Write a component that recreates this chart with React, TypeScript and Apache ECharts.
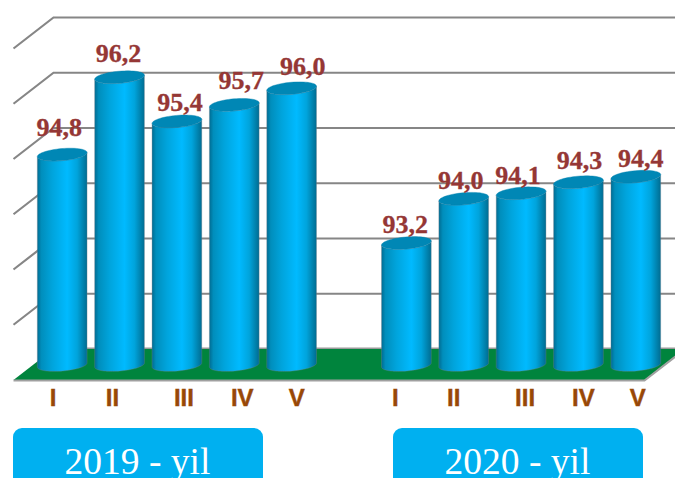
import React, { useEffect, useRef } from "react";
import * as echarts from "echarts";

const categories = ["I", "II", "III", "IV", "V", "", "I", "II", "III", "IV", "V"];
const values: (number | null)[] = [94.8, 96.2, 95.4, 95.7, 96.0, null, 93.2, 94.0, 94.1, 94.3, 94.4];
const valueLabels = ["94,8", "96,2", "95,4", "95,7", "96,0", "", "93,2", "94,0", "94,1", "94,3", "94,4"];
const yTicks = [92, 93, 94, 95, 96, 97];
const yearLabels = ["2019 - yil", "2020 - yil"];

// hand-placed offsets of the texts, relative to each bar
const labelDx = [-3, -1, 3, 7, 11, 0, -1, -3, -3, 1, 5];
const labelDy = [-14, -11, -5.5, -11, -8.5, 0, -5, -5, -5, -9, -5];
const catDx = [-9, -7, 7, 8, 5, 0, -11, -10, 4, 5, 2];

const DEPTH_X = 20;
const DEPTH_Y = 15.5;
const AXIS_MIN = 91;
const AXIS_MAX = 97;

const sideGradient = new echarts.graphic.LinearGradient(0, 0, 1, 0, [
  { offset: 0, color: "#006c92" },
  { offset: 0.08, color: "#008ebc" },
  { offset: 0.3, color: "#00a4dc" },
  { offset: 0.6, color: "#00baff" },
  { offset: 0.8, color: "#00a4dc" },
  { offset: 0.93, color: "#0080ab" },
  { offset: 1, color: "#006c92" },
]);

const TILT = (-5 * Math.PI) / 180;
function ellipsePoint(cx: number, cy: number, a: number, b: number, t: number): number[] {
  const px = a * Math.cos(t);
  const py = b * Math.sin(t);
  return [cx + px * Math.cos(TILT) - py * Math.sin(TILT), cy + px * Math.sin(TILT) + py * Math.cos(TILT)];
}

function renderBar(params: any, api: any) {
  const i = api.value(0);
  const v = api.value(1);
  if (v == null || isNaN(v)) return null;
  const [cx, cyTop] = api.coord([i, v]);
  const [, cyBase] = api.coord([i, AXIS_MIN]);
  const a = api.size([1, 0])[0] * 0.435;
  const b = 6;
  const bottomY = cyBase + 0.5;
  const body: number[][] = [];
  for (let k = 0; k <= 40; k++) body.push(ellipsePoint(cx, bottomY, a, b, (Math.PI * k) / 40));
  for (let k = 0; k <= 40; k++) body.push(ellipsePoint(cx, cyTop, a, b, Math.PI - (Math.PI * k) / 40));
  const top: number[][] = [];
  for (let k = 0; k < 60; k++) top.push(ellipsePoint(cx, cyTop, a, b, (2 * Math.PI * k) / 60));
  return {
    type: "group",
    children: [
      {
        type: "polygon",
        shape: { points: body },
        style: { fill: sideGradient, stroke: "rgba(120,130,140,0.35)", lineWidth: 1 },
      },
      {
        type: "polygon",
        shape: { points: top },
        style: { fill: "#0087b5", stroke: "rgba(0,130,175,0.8)", lineWidth: 0.5 },
      },
    ],
  };
}

function renderValueLabel(params: any, api: any) {
  const i = api.value(0);
  const v = api.value(1);
  if (v == null || isNaN(v)) return null;
  const [cx, cyTop] = api.coord([i, v]);
  return {
    type: "text",
    x: cx + labelDx[i],
    y: cyTop + labelDy[i],
    style: {
      text: valueLabels[i],
      fill: "#953735",
      stroke: "#953735",
      lineWidth: 0.3,
      font: "bold 26px 'Liberation Serif', serif",
      textAlign: "center",
      textVerticalAlign: "bottom",
    },
  };
}

function renderCatLabel(params: any, api: any) {
  const i = api.value(0);
  const [cx, cy] = api.coord([i, AXIS_MIN]);
  return {
    type: "text",
    x: cx + catDx[i],
    y: cy + 33,
    style: {
      text: categories[i],
      fill: "#984807",
      stroke: "#984807",
      lineWidth: 0.4,
      font: "bold 24px 'Liberation Sans', sans-serif",
      textAlign: "center",
      textVerticalAlign: "middle",
    },
  };
}

function renderGridLine(params: any, api: any) {
  const v = api.value(0);
  const [, y] = api.coord([0, v]);
  const left = api.coord([0, v])[0] - api.size([1, 0])[0] / 2;
  const right = api.coord([categories.length - 1, v])[0] + api.size([1, 0])[0] / 2;
  return {
    type: "polyline",
    shape: {
      points: [
        [left - DEPTH_X, y + DEPTH_Y],
        [left + DEPTH_X, y - DEPTH_Y],
        [right + DEPTH_X, y - DEPTH_Y],
      ],
    },
    style: { stroke: "#868686", lineWidth: 2.2, fill: "none" },
  };
}

function renderFloor(params: any, api: any) {
  const v = AXIS_MIN;
  const [cx0, y] = api.coord([0, v]);
  const w = api.size([1, 0])[0] / 2;
  const left = cx0 - w;
  const right = api.coord([categories.length - 1, v])[0] + w;
  return {
    type: "group",
    children: [
      {
        type: "polyline",
        shape: { points: [[left + DEPTH_X, y - DEPTH_Y], [right + DEPTH_X, y - DEPTH_Y]] },
        style: { stroke: "#9a9a9a", lineWidth: 3, fill: "none" },
      },
      {
        type: "polygon",
        shape: {
          points: [
            [left - DEPTH_X, y + DEPTH_Y],
            [left + DEPTH_X, y - DEPTH_Y],
            [right + DEPTH_X, y - DEPTH_Y],
            [right - DEPTH_X, y + DEPTH_Y],
          ],
        },
        style: { fill: "#00843d" },
      },
      {
        type: "polyline",
        shape: { points: [[left - DEPTH_X, y + DEPTH_Y + 0.5], [right - DEPTH_X, y + DEPTH_Y + 0.5], [right + DEPTH_X, y - DEPTH_Y + 0.5]] },
        style: { stroke: "#a0a0a0", lineWidth: 2, fill: "none" },
      },
    ],
  };
}

export default function App() {
  const ref = useRef<HTMLDivElement>(null);
  useEffect(() => {
    document.body.style.margin = "0";
    const chart = echarts.init(ref.current!, null, { renderer: "svg", width: 675, height: 478 });
    const indexed = values.map((v, i) => [i, v]);
    const yearBox = (x: number, text: string) => ({
      type: "group",
      children: [
        { type: "rect", x, y: 428, shape: { width: 250, height: 80, r: 9 }, style: { fill: "#00b0f0" } },
        {
          type: "text",
          x: x + 124.5,
          y: 480.5,
          style: {
            text,
            fill: "#ffffff",
            font: "37.5px 'Liberation Serif', serif",
            textAlign: "center",
            textVerticalAlign: "bottom",
          },
        },
      ],
    });
    chart.setOption({
      animation: false,
      backgroundColor: "#ffffff",
      grid: { left: 33.5, right: 10.5, top: 33, bottom: 113.5 },
      xAxis: {
        type: "category",
        data: categories,
        show: false,
      },
      yAxis: { type: "value", min: AXIS_MIN, max: AXIS_MAX, interval: 1, show: false },
      graphic: [yearBox(13, yearLabels[0]), yearBox(393, yearLabels[1])],
      series: [
        { type: "custom", name: "grid", clip: false, silent: true, data: yTicks.map((v) => [v]), encode: { x: -1, y: 0 }, renderItem: renderGridLine, z: 1 },
        { type: "custom", name: "floor", clip: false, silent: true, data: [[AXIS_MIN]], encode: { x: -1, y: 0 }, renderItem: renderFloor, z: 2 },
        { type: "custom", name: "bars", clip: false, data: indexed, encode: { x: 0, y: 1 }, renderItem: renderBar, z: 3 },
        { type: "custom", name: "labels", clip: false, silent: true, data: indexed, encode: { x: 0, y: 1 }, renderItem: renderValueLabel, z: 4 },
        { type: "custom", name: "categories", clip: false, silent: true, data: categories.map((c, i) => [i]), encode: { x: 0, y: -1 }, renderItem: renderCatLabel, z: 4 },
      ],
    });
    return () => chart.dispose();
  }, []);
  return <div ref={ref} style={{ width: 675, height: 478, overflow: "hidden" }} />;
}
